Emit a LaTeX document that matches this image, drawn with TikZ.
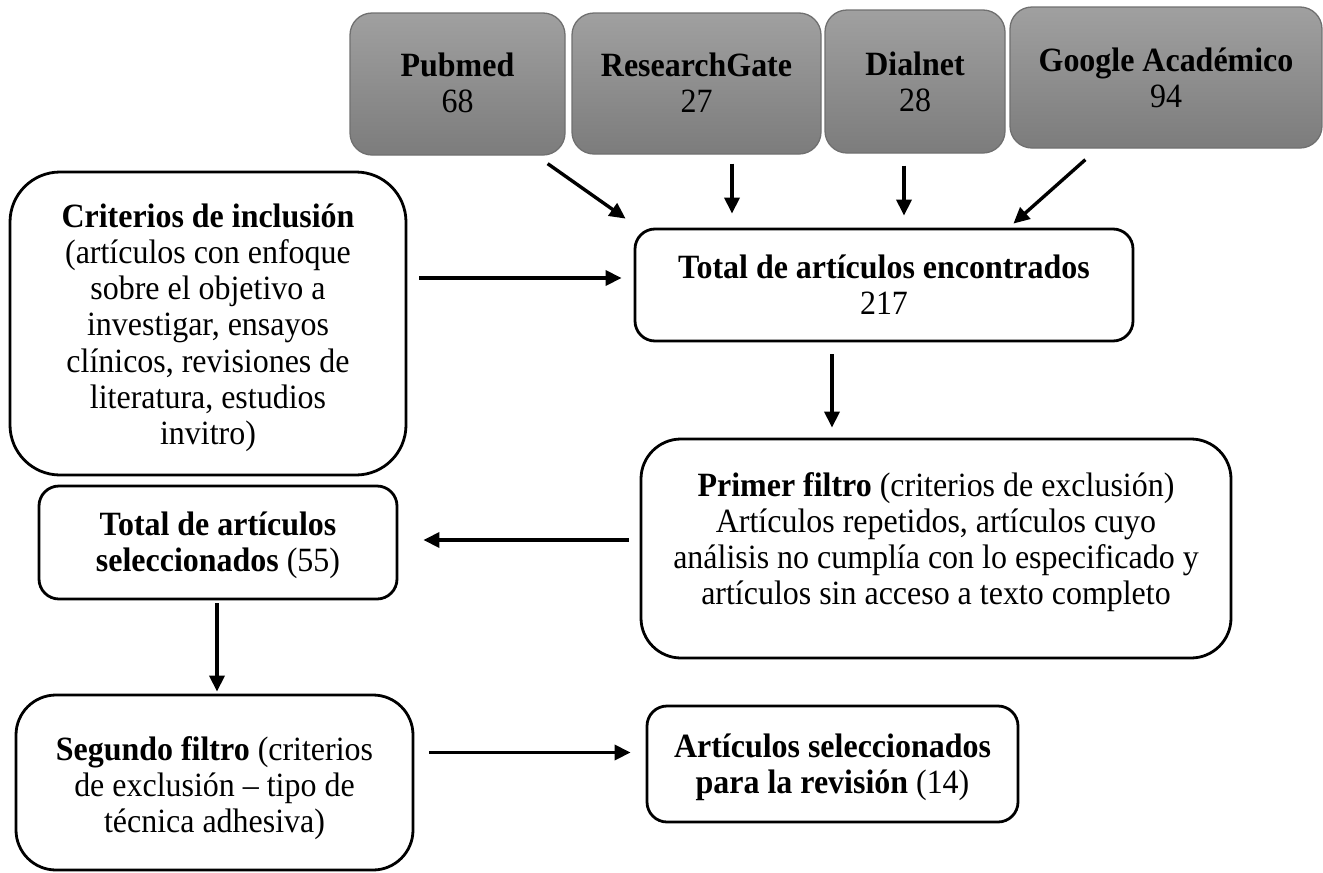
\documentclass[tikz,border=0pt]{standalone}
\usepackage{fontspec}
\setmainfont{Liberation Serif}[FakeStretch=0.94]
\usetikzlibrary{arrows.meta}
\definecolor{gtop}{RGB}{160,160,160}
\definecolor{gbot}{RGB}{124,124,124}
\definecolor{gedge}{RGB}{112,112,112}
\begin{document}
\begin{tikzpicture}[x=1pt,y=-1pt,
  wbox/.style={draw=black, line width=2.8pt, fill=white, inner sep=0pt},
  gbox/.style={draw=gedge, line width=1.3pt, top color=gtop, bottom color=gbot, inner sep=0pt, rounded corners=22pt},
  txt/.style={align=center, inner sep=0pt, anchor=base, font=\fontsize{34}{36.3}\selectfont},
  arr/.style={line width=3.4pt, -{Triangle[length=16pt,width=15pt]}}
]
\useasboundingbox (0,0) rectangle (1323,873);

% top source boxes
\node[gbox, minimum width=215pt, minimum height=142pt] (pub) at (457.5,84) {};
\node[gbox, minimum width=249pt, minimum height=141pt] (rg) at (696.5,83.5) {};
\node[gbox, minimum width=180pt, minimum height=143pt] (dial) at (915,81.5) {};
\node[gbox, minimum width=312pt, minimum height=141pt] (goog) at (1166,77.5) {};
% text nodes: anchor base = baseline of the last line
\node[txt] (pubT) at (457.5,112.3) {\textbf{Pubmed}\\68};
\node[txt] (rgT) at (696.5,112.3) {\textbf{ResearchGate}\\27};
\node[txt] (dialT) at (915,111.3) {\textbf{Dialnet}\\28};
\node[txt] (googT) at (1166,107.3) {\textbf{Google Académico}\\94};

% white boxes
\node[wbox, rounded corners=20pt, minimum width=498pt, minimum height=112pt] (total) at (884,285) {};
\node[wbox, rounded corners=50pt, minimum width=396pt, minimum height=303pt] (crit) at (208,323.5) {};
\node[wbox, rounded corners=40pt, minimum width=590pt, minimum height=219pt] (primer) at (936,548.5) {};
\node[wbox, rounded corners=20pt, minimum width=358pt, minimum height=113pt] (sel) at (218,542.5) {};
\node[wbox, rounded corners=40pt, minimum width=397pt, minimum height=175pt] (seg) at (214.5,782.5) {};
\node[wbox, rounded corners=20pt, minimum width=371pt, minimum height=116pt] (art) at (832.5,764) {};

\node[txt] (totalT) at (884,314.3) {\textbf{Total de artículos encontrados}\\217};
\node[txt] (critT) at (208,444.8) {\textbf{Criterios de inclusión}\\(artículos con enfoque\\sobre el objetivo a\\investigar, ensayos\\clínicos, revisiones de\\literatura, estudios\\invitro)};
\node[txt] (primerT) at (936,604.9) {\textbf{Primer filtro} (criterios de exclusión)\\Artículos repetidos, artículos cuyo\\análisis no cumplía con lo especificado y\\artículos sin acceso a texto completo};
\node[txt] (selT) at (218,571.3) {\textbf{Total de artículos}\\\textbf{seleccionados} (55)};
\node[txt] (segT) at (214.5,832.6) {\textbf{Segundo filtro} (criterios\\de exclusión – tipo de\\técnica adhesiva)};
\node[txt] (artT) at (832.5,793.3) {\textbf{Artículos seleccionados}\\\textbf{para la revisión} (14)};

% connectors
\draw[arr] ([shift={(-18,8)}]pub.south east) -- ([shift={(-8,-9)}]total.north west);
\draw[arr] ([shift={(35.5,9)}]rg.south) -- ([shift={(-152,-14)}]total.north);
\draw[arr] ([shift={(-11,12)}]dial.south) -- ([shift={(20,-12)}]total.north);
\draw[arr] ([shift={(76,11)}]goog.south west) -- ([shift={(-121,-4)}]total.north east);
\draw[arr] ([shift={(12,-45.5)}]crit.east) -- ([shift={(-12,-7)}]total.west);
\draw[arr] ([shift={(-52,12)}]total.south) -- ([shift={(-104,-10)}]primer.north);
\draw[arr] ([shift={(-11,-8.5)}]primer.west) -- ([shift={(25,-2.5)}]sel.east);
\draw[arr] ([shift={(-1,3)}]sel.south) -- ([shift={(2.5,-2)}]seg.north);
\draw[arr] ([shift={(15,-30)}]seg.east) -- ([shift={(-15,-11.5)}]art.west);
\end{tikzpicture}
\end{document}
